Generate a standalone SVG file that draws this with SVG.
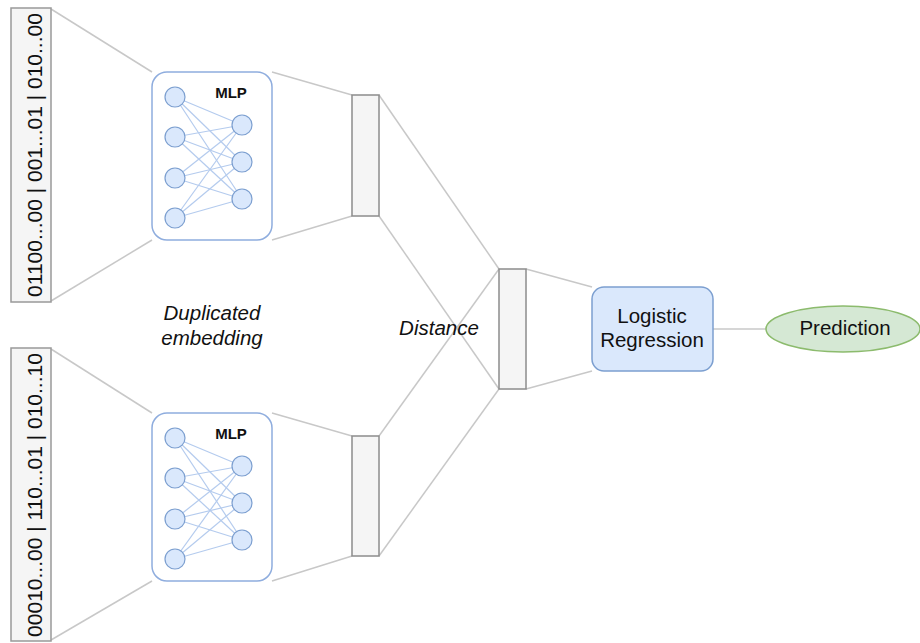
<svg xmlns="http://www.w3.org/2000/svg" width="920" height="643" viewBox="0 0 920 643">
  <style>
    .link { stroke: #c8c8c8; stroke-width: 1.5; fill: none; }
    .vec { fill: #f5f5f5; stroke: #999999; stroke-width: 1.5; }
    .bar { fill: #f5f5f5; stroke: #8c8c8c; stroke-width: 1.5; }
    .mlp { fill: #ffffff; stroke: #8fadde; stroke-width: 1.5; }
    .neuron { fill: #dae8fc; stroke: #7c9fd0; stroke-width: 1.2; }
    .syn { stroke: #b4cbee; stroke-width: 1.2; }
    .lr { fill: #dae8fc; stroke: #7c9fd0; stroke-width: 1.5; }
    .pred { fill: #d5e8d4; stroke: #8cbb6d; stroke-width: 1.5; }
    text { font-family: "Liberation Sans", Arial, Helvetica, sans-serif; fill: #111111; }
    .lbl { font-size: 20.5px; text-anchor: middle; }
    .it { font-style: italic; }
    .bits { font-size: 21px; text-anchor: middle; }
    .mlpt { font-size: 15px; font-weight: bold; text-anchor: middle; }
  </style>
  <defs>
    <!-- MLP block: rounded container, 4 inputs fully connected to 3 outputs -->
    <g id="mlpBlock">
      <rect class="mlp" x="152" y="72" width="120" height="168" rx="15"/>
      <g class="syn">
        <line x1="175" y1="97" x2="242" y2="125"/>
        <line x1="175" y1="97" x2="242" y2="162"/>
        <line x1="175" y1="97" x2="242" y2="199"/>
        <line x1="175" y1="137" x2="242" y2="125"/>
        <line x1="175" y1="137" x2="242" y2="162"/>
        <line x1="175" y1="137" x2="242" y2="199"/>
        <line x1="175" y1="178" x2="242" y2="125"/>
        <line x1="175" y1="178" x2="242" y2="162"/>
        <line x1="175" y1="178" x2="242" y2="199"/>
        <line x1="175" y1="218" x2="242" y2="125"/>
        <line x1="175" y1="218" x2="242" y2="162"/>
        <line x1="175" y1="218" x2="242" y2="199"/>
      </g>
      <circle class="neuron" cx="175" cy="97" r="10"/>
      <circle class="neuron" cx="175" cy="137" r="10"/>
      <circle class="neuron" cx="175" cy="178" r="10"/>
      <circle class="neuron" cx="175" cy="218" r="10"/>
      <circle class="neuron" cx="242" cy="125" r="10"/>
      <circle class="neuron" cx="242" cy="162" r="10"/>
      <circle class="neuron" cx="242" cy="199" r="10"/>
      <text class="mlpt" x="231" y="98">MLP</text>
    </g>
  </defs>

  <!-- connectors -->
  <g id="connectors">
    <line class="link" x1="51" y1="9" x2="152" y2="72"/>
    <line class="link" x1="51" y1="301" x2="152" y2="240"/>
    <line class="link" x1="51" y1="349" x2="152" y2="413"/>
    <line class="link" x1="51" y1="640" x2="152" y2="581"/>
    <line class="link" x1="272" y1="72" x2="352" y2="95"/>
    <line class="link" x1="272" y1="240" x2="352" y2="216"/>
    <line class="link" x1="272" y1="413" x2="352" y2="436"/>
    <line class="link" x1="272" y1="581" x2="352" y2="556"/>
    <line class="link" x1="379" y1="95" x2="499" y2="269"/>
    <line class="link" x1="379" y1="216" x2="499" y2="389"/>
    <line class="link" x1="379" y1="436" x2="499" y2="269"/>
    <line class="link" x1="379" y1="556" x2="499" y2="389"/>
    <line class="link" x1="526" y1="269" x2="592" y2="287"/>
    <line class="link" x1="526" y1="389" x2="592" y2="371"/>
    <line class="link" x1="713" y1="329" x2="766" y2="329"/>
  </g>

  <!-- input bit vectors -->
  <g id="input-a">
    <rect class="vec" x="11" y="8" width="40" height="294"/>
    <text class="bits" transform="translate(41.5,155) rotate(-90)">01100...00 | 001...01 | 010...00</text>
  </g>
  <g id="input-b">
    <rect class="vec" x="11" y="348" width="40" height="293"/>
    <text class="bits" transform="translate(41.5,495) rotate(-90)">00010...00 | 110...01 | 010...10</text>
  </g>

  <!-- shared-weight MLP encoders -->
  <g id="mlp-a">
    <use href="#mlpBlock"/>
  </g>
  <g id="mlp-b">
    <use href="#mlpBlock" transform="translate(0,341)"/>
  </g>

  <!-- embedding outputs -->
  <g id="embedding-a">
    <rect class="bar" x="352" y="95" width="27" height="121"/>
  </g>
  <g id="embedding-b">
    <rect class="bar" x="352" y="436" width="27" height="120"/>
  </g>

  <!-- distance vector -->
  <g id="distance">
    <rect class="bar" x="499" y="269" width="27" height="120"/>
  </g>

  <g id="logistic-regression">
    <rect class="lr" x="592" y="287" width="121" height="84" rx="12"/>
    <text class="lbl" x="652" y="323">Logistic</text>
    <text class="lbl" x="652" y="347">Regression</text>
  </g>

  <g id="prediction">
    <ellipse class="pred" cx="843" cy="329" rx="77" ry="23"/>
    <text class="lbl" x="845" y="335">Prediction</text>
  </g>

  <!-- free labels -->
  <g id="label-duplicated">
    <text class="lbl it" x="212" y="320">Duplicated</text>
    <text class="lbl it" x="212" y="345">embedding</text>
  </g>
  <g id="label-distance">
    <text class="lbl it" x="439" y="335">Distance</text>
  </g>
</svg>
